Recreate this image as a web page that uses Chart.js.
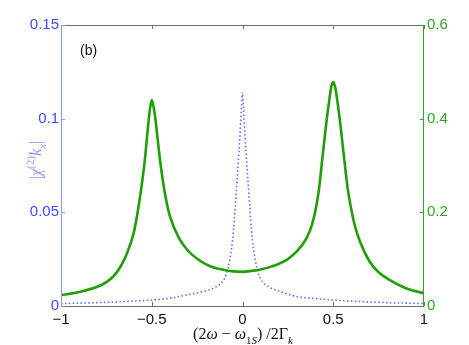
<!DOCTYPE html>
<html>
<head>
<meta charset="utf-8">
<script src="https://cdn.jsdelivr.net/npm/chart.js@4"></script>
<style>
 html,body{margin:0;padding:0;background:#fff;}
 #wrap{width:469px;height:345px;position:relative;}
</style>
</head>
<body>
<div id="wrap"><canvas id="myChart" width="469" height="345"></canvas></div>
<script>
// values
const greenX=[-1,-0.9,-0.8,-0.75,-0.7,-0.65,-0.62,-0.6,-0.58,-0.56,-0.54,-0.52,-0.51,-0.5,-0.49,-0.48,-0.46,-0.44,-0.42,-0.4,-0.35,-0.3,-0.25,-0.2,-0.15,-0.1,-0.05,0,
 0.05,0.1,0.15,0.2,0.25,0.3,0.35,0.38,0.4,0.42,0.44,0.46,0.48,0.49,0.5,0.51,0.52,0.54,0.56,0.58,0.6,0.62,0.65,0.7,0.75,0.8,0.9,1];
const greenY=[0.023,0.030,0.041,0.051,0.068,0.100,0.130,0.155,0.195,0.245,0.305,0.385,0.420,0.440,0.425,0.400,0.330,0.270,0.225,0.192,0.145,0.118,0.101,0.089,0.081,0.077,0.074,0.073,
 0.075,0.078,0.083,0.090,0.100,0.117,0.143,0.170,0.200,0.245,0.315,0.385,0.445,0.470,0.478,0.468,0.445,0.385,0.315,0.250,0.205,0.170,0.135,0.095,0.072,0.058,0.038,0.027];

const blueX=[-1,-0.8,-0.6,-0.5,-0.4,-0.3,-0.2,-0.15,-0.1,-0.08,-0.06,-0.05,-0.04,-0.03,-0.02,-0.01,0,
 0.01,0.02,0.03,0.04,0.05,0.06,0.08,0.1,0.15,0.2,0.3,0.4,0.5,0.6,0.8,1];
const blueY=[0.0013,0.0018,0.0026,0.0032,0.0042,0.0060,0.0082,0.0100,0.0145,0.0200,0.0310,0.0400,0.0530,0.0670,0.0815,0.0975,0.114,
 0.0975,0.0815,0.0670,0.0530,0.0400,0.0310,0.0200,0.0145,0.0100,0.0080,0.0050,0.0040,0.0032,0.0026,0.0018,0.0013];

const xTicks=[-1,-0.5,0,0.5,1];
const leftTicks=[0,0.05,0.1,0.15];
const rightTicks=[0,0.2,0.4,0.6];

const BLUE='#3a4dff', BLUE_AX='#8f95ff', BLUE_LINE='#5a6cff';
const GREEN='#1f9e0a', GREEN_AX='#2aa81f';

const fmt=v=>String(v).replace('-','\u2212');
const setTicks=arr=>scale=>{scale.ticks=arr.map(v=>({value:v}));};

function richText(ctx,parts,x,y,size,color){
 // parts: [text, style] style: n normal, i italic, sub, subi, sup
 ctx.save();
 ctx.fillStyle=color;
 ctx.textBaseline='alphabetic';
 ctx.textAlign='left';
 const fontOf=p=>{
   const s=p[1]||'n';
   const small=(s.indexOf('sub')==0||s=='sup');
   const it=(s=='i'||s=='subi');
   return (it?'italic ':'')+(small?Math.round(size*0.7):size)+'px "Liberation Serif", serif';
 };
 let w=0;
 parts.forEach(p=>{ctx.font=fontOf(p);w+=ctx.measureText(p[0]).width;});
 let cx=x-w/2;
 parts.forEach(p=>{
   const s=p[1]||'n';
   ctx.font=fontOf(p);
   let dy=0;
   if(s.indexOf('sub')==0) dy=size*0.3;
   if(s=='sup') dy=-size*0.42;
   ctx.fillText(p[0],cx,y+dy);
   cx+=ctx.measureText(p[0]).width;
 });
 ctx.restore();
}

const framePlugin={
 id:'frame',
 afterDraw(chart){
   const {ctx,chartArea:a,scales}=chart;
   const tl=4;
   ctx.save();
   ctx.lineWidth=1;
   // top and bottom lines with inward ticks
   ctx.strokeStyle='#6e6e6e';
   ctx.beginPath();
   ctx.moveTo(a.left,a.top+0.5);ctx.lineTo(a.right,a.top+0.5);
   ctx.moveTo(a.left,a.bottom+0.5);ctx.lineTo(a.right,a.bottom+0.5);
   xTicks.forEach(v=>{
     const px=Math.round(scales.x.getPixelForValue(v))+0.5;
     ctx.moveTo(px,a.top);ctx.lineTo(px,a.top+tl);
     ctx.moveTo(px,a.bottom);ctx.lineTo(px,a.bottom-tl);
   });
   ctx.stroke();
   // left axis
   ctx.strokeStyle=BLUE_AX;
   ctx.beginPath();
   ctx.moveTo(a.left+0.5,a.top);ctx.lineTo(a.left+0.5,a.bottom+1);
   leftTicks.forEach(v=>{
     const py=Math.round(scales.y.getPixelForValue(v))+0.5;
     ctx.moveTo(a.left,py);ctx.lineTo(a.left+tl,py);
   });
   ctx.stroke();
   // right axis
   ctx.strokeStyle=GREEN_AX;
   ctx.beginPath();
   ctx.moveTo(a.right-0.5,a.top);ctx.lineTo(a.right-0.5,a.bottom+1);
   rightTicks.forEach(v=>{
     const py=Math.round(scales.y1.getPixelForValue(v))+0.5;
     ctx.moveTo(a.right,py);ctx.lineTo(a.right-tl,py);
   });
   ctx.stroke();

   // panel tag
   ctx.fillStyle='#111';
   ctx.font='14px "Liberation Sans", Arial, sans-serif';
   ctx.textBaseline='middle';
   ctx.fillText('(b)',80,51);

   // x axis title
   richText(ctx,[['(2'],['\u03C9','i'],[' \u2212 '],['\u03C9','i'],['1','sub'],['S','subi'],[') /2\u0393'],['k','subi']],
     243,339,16,'#111');

   // left axis title
   ctx.translate(36,160);
   ctx.rotate(-Math.PI/2);
   richText(ctx,[['|'],['\u03C7','i'],['(2)','sup'],['k','i'],['x','subi'],['|']],0,5,16,BLUE_AX);
   ctx.restore();
 }
};

const tickFont={size:15,family:'"Liberation Sans", Arial, sans-serif'};
const noGrid={display:false,drawTicks:false,tickLength:0};

const ctx=document.getElementById('myChart');
new Chart(ctx,{
 type:'line',
 data:{
   datasets:[
     {label:'green',data:greenX.map((x,i)=>({x:x,y:greenY[i]})),yAxisID:'y1',
      borderColor:GREEN,borderWidth:2.6,pointRadius:0,cubicInterpolationMode:'monotone',fill:false},
     {label:'blue',data:blueX.map((x,i)=>({x:x,y:blueY[i]})),yAxisID:'y',
      borderColor:BLUE_LINE,borderWidth:1.6,borderDash:[1.5,2.4],pointRadius:0,cubicInterpolationMode:'monotone',fill:false}
   ]
 },
 options:{
   responsive:false,
   animation:false,
   layout:{padding:{top:25,left:0,right:0,bottom:0}},
   plugins:{legend:{display:false},tooltip:{enabled:false}},
   scales:{
     x:{type:'linear',min:-1,max:1,
        afterBuildTicks:setTicks(xTicks),
        afterFit(s){s.height=39;},
        grid:noGrid,border:{display:false},
        ticks:{color:'#111',padding:5,font:tickFont,callback:fmt,maxRotation:0,autoSkip:false}},
     y:{type:'linear',position:'left',min:0,max:0.15,
        afterBuildTicks:setTicks(leftTicks),
        afterFit(s){s.width=61;},
        grid:noGrid,border:{display:false},
        ticks:{color:BLUE,padding:2,font:tickFont,callback:fmt}},
     y1:{type:'linear',position:'right',min:0,max:0.6,
        afterBuildTicks:setTicks(rightTicks),
        afterFit(s){s.width=45;},
        grid:noGrid,border:{display:false},
        ticks:{color:GREEN_AX,padding:3,font:tickFont,callback:fmt}}
   }
 },
 plugins:[framePlugin]
});
</script>
</body>
</html>
